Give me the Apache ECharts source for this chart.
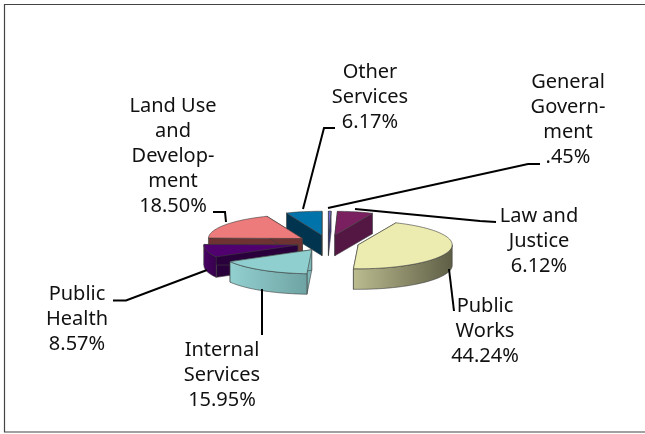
<!DOCTYPE html>
<html>
<head>
<meta charset="utf-8">
<style>
  html, body { margin: 0; padding: 0; background: #fff; }
  #chart { width: 645px; height: 434px; }
</style>
<script src="https://cdn.jsdelivr.net/npm/echarts@6/dist/echarts.min.js"></script>
</head>
<body>
<div id="chart"></div>
<script>
// pie order, clockwise from 12 o'clock
const categories = ['General\nGovern-\nment', 'Law and\nJustice', 'Public\nWorks', 'Internal\nServices', 'Public\nHealth', 'Land Use\nand\nDevelop-\nment', 'Other\nServices']
const shares = [0.45, 6.12, 44.24, 15.95, 8.57, 18.5, 6.17]

const topColors = ['#6a6ad0', '#7a1f60', '#ecebb0', '#90cfcf', '#50006f', '#ee7b7b', '#0073aa']
const faceColors = ['#3a3a80', '#541643', '#8f8f68', '#7fb8b8', '#2a003c', '#6e3232', '#00344f']
const rimLight = ['#5a5ab0', '#541643', '#bcbc90', '#93d0d0', '#4a0066', '#7a3a3a', '#00344f']
const rimDark = ['#3a3a80', '#541643', '#5e5e46', '#6fa3a3', '#35004a', '#6e3232', '#00344f']

// back slices first so the front ones cover them
const drawOrder = [6, 0, 1, 5, 4, 2, 3]

const labelCenters = [[568, 120], [539, 241], [485, 331], [222, 375], [77, 319], [173, 156], [370, 97]]
const leaderPaths = [
  [[328, 208], [528, 164], [540, 164]],
  [[355, 209], [480, 221], [496, 222]],
  [[449, 269], [454, 311]],
  [[262, 289], [262, 335]],
  [[207, 270], [126, 300.5], [113, 300.5]],
  [[226, 222], [225, 212], [213, 212]],
  [[303, 209], [324, 128], [335, 128]],
]

const pieCenter = [328, 243]
const radiusX = 94
const radiusY = 24
const depth = 20.5
const explode = 0.33

const total = shares.reduce((sum, v) => sum + v, 0)

function sliceAngles(index) {
  const before = shares.slice(0, index).reduce((sum, v) => sum + v, 0)
  return [(before / total) * Math.PI * 2, ((before + shares[index]) / total) * Math.PI * 2]
}

function formatShare(value) {
  return value.toFixed(2).replace(/^0/, '') + '%'
}

function pointAt(center, angle) {
  return [center[0] + radiusX * Math.sin(angle), center[1] - radiusY * Math.cos(angle)]
}

function arcPoints(center, from, to) {
  const steps = Math.max(2, Math.ceil((to - from) / 0.04))
  const points = []
  for (let i = 0; i <= steps; i++) {
    points.push(pointAt(center, from + ((to - from) * i) / steps))
  }
  return points
}

function renderSlice(params, api) {
  const index = api.value(0)
  const [start, end] = sliceAngles(index)
  const mid = (start + end) / 2
  const apex = [
    pieCenter[0] + explode * radiusX * Math.sin(mid),
    pieCenter[1] - explode * radiusY * Math.cos(mid),
  ]
  const below = (p) => [p[0], p[1] + depth]
  const edge = { stroke: '#3c3c3c', lineWidth: 0.6 }
  const children = []

  ;[start, end].forEach((angle) => {
    const rim = pointAt(apex, angle)
    children.push({
      type: 'polygon',
      shape: { points: [apex, rim, below(rim), below(apex)] },
      style: { fill: faceColors[index], ...edge },
    })
  })

  // only the front half of the outer wall can be seen
  const rimFrom = Math.max(start, Math.PI / 2)
  const rimTo = Math.min(end, Math.PI * 1.5)
  if (rimTo > rimFrom) {
    const upper = arcPoints(apex, rimFrom, rimTo)
    children.push({
      type: 'polygon',
      shape: { points: upper.concat(upper.map(below).reverse()) },
      style: {
        fill: {
          type: 'linear',
          x: 0, y: 0, x2: 1, y2: 0,
          colorStops: [
            { offset: 0, color: rimLight[index] },
            { offset: 1, color: rimDark[index] },
          ],
        },
        ...edge,
      },
    })
  }

  children.push({
    type: 'polygon',
    shape: { points: [apex].concat(arcPoints(apex, start, end)) },
    style: { fill: topColors[index], ...edge },
  })

  return { type: 'group', children }
}

function renderLabel(params, api) {
  const index = api.value(0)
  return {
    type: 'group',
    children: [
      {
        type: 'polyline',
        shape: { points: leaderPaths[index] },
        style: { fill: 'none', stroke: '#000', lineWidth: 2 },
      },
      {
        type: 'text',
        x: labelCenters[index][0],
        y: labelCenters[index][1],
        style: {
          text: categories[index] + '\n' + formatShare(shares[index]),
          fill: '#111',
          font: '20px "Noto Sans"',
          lineHeight: 25,
          align: 'center',
          verticalAlign: 'middle',
        },
      },
    ],
  }
}

const chart = echarts.init(document.getElementById('chart'), null, { renderer: 'canvas' })

chart.setOption({
  animation: false,
  backgroundColor: '#fff',
  graphic: [{
    type: 'rect',
    shape: { x: 4.5, y: 4.5, width: 680, height: 427.5 },
    style: { fill: 'none', stroke: '#444', lineWidth: 1.2 },
    silent: true,
  }],
  series: [
    {
      type: 'custom',
      coordinateSystem: 'none',
      silent: true,
      data: drawOrder.map((i) => [i, shares[i]]),
      renderItem: renderSlice,
      z: 2,
    },
    {
      type: 'custom',
      coordinateSystem: 'none',
      silent: true,
      data: categories.map((name, i) => [i, shares[i]]),
      renderItem: renderLabel,
      z: 3,
    },
  ],
})
</script>
</body>
</html>
